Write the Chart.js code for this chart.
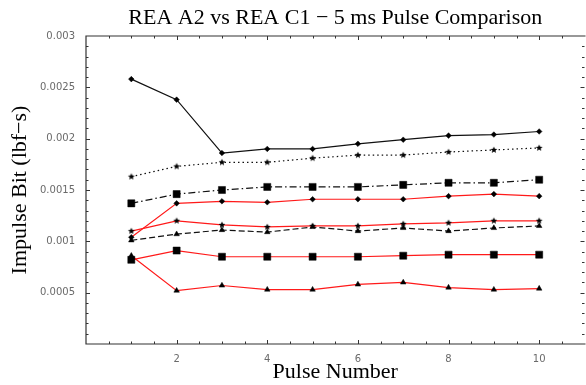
<!DOCTYPE html>
<html>
<head>
<meta charset="utf-8">
<script src="https://cdn.jsdelivr.net/npm/chart.js@4/dist/chart.umd.min.js"></script>
<style>
  html, body { margin: 0; padding: 0; background: #fff; overflow: hidden; }
  #wrap { width: 590px; height: 385px; }
</style>
</head>
<body>
<div id="wrap"><canvas id="pulseChart" width="590" height="385"></canvas></div>
<script>
// Pulse numbers along the x axis
const pulses = [1, 2, 3, 4, 5, 6, 7, 8, 9, 10];

// Impulse bit per pulse (lbf-s)
const blackDiamond  = [0.00258, 0.00238, 0.00186, 0.00190, 0.00190, 0.00195, 0.00199, 0.00203, 0.00204, 0.00207];
const blackStar     = [0.00163, 0.00173, 0.00177, 0.00177, 0.00181, 0.00184, 0.00184, 0.00187, 0.00189, 0.00191];
const blackSquare   = [0.00137, 0.00146, 0.00150, 0.00153, 0.00153, 0.00153, 0.00155, 0.00157, 0.00157, 0.00160];
const redDiamond    = [0.00104, 0.00137, 0.00139, 0.00138, 0.00141, 0.00141, 0.00141, 0.00144, 0.00146, 0.00144];
const redStar       = [0.00110, 0.00120, 0.00116, 0.00114, 0.00115, 0.00115, 0.00117, 0.00118, 0.00120, 0.00120];
const blackTriangle = [0.00101, 0.00107, 0.00111, 0.00109, 0.00114, 0.00110, 0.00113, 0.00110, 0.00113, 0.00115];
const redSquare     = [0.00082, 0.00091, 0.00085, 0.00085, 0.00085, 0.00085, 0.00086, 0.00087, 0.00087, 0.00087];
const redTriangle   = [0.00086, 0.00052, 0.00057, 0.00053, 0.00053, 0.00058, 0.00060, 0.00055, 0.00053, 0.00054];

const xTicks = [2, 4, 6, 8, 10];
const yTicks = [0.0005, 0.001, 0.0015, 0.002, 0.0025, 0.003];

const titleText = 'REA A2 vs REA C1 \u2212 5 ms Pulse Comparison';

// small filled star used as a point marker
function starImage(r) {
    const s = Math.ceil(r * 2 + 2);
    const c = document.createElement('canvas');
    c.width = s; c.height = s;
    const g = c.getContext('2d');
    g.beginPath();
    for (let i = 0; i < 10; i++) {
        const a = -Math.PI / 2 + i * Math.PI / 5;
        const rr = i % 2 ? r * 0.45 : r;
        g.lineTo(s / 2 + rr * Math.cos(a), s / 2 + rr * Math.sin(a));
    }
    g.closePath();
    g.fillStyle = '#000';
    g.fill();
    return c;
}
const star = starImage(3.6);

function toPoints(values) {
    return pulses.map((p, i) => ({ x: p, y: values[i] }));
}

function series(values, color, dash, marker, radius) {
    return {
        data: toPoints(values),
        borderColor: color,
        borderWidth: 1.2,
        borderDash: dash,
        pointStyle: marker,
        pointRadius: radius,
        pointBackgroundColor: '#000',
        pointBorderColor: '#000',
        pointBorderWidth: 0.5,
        tension: 0
    };
}

const RED = '#ff1a1a';
const BLACK = '#111';

// frame with inward ticks on all four sides, plus the title over the plot area
const framePlugin = {
    id: 'frame',
    afterDraw(chart) {
        const { ctx, chartArea: a, scales } = chart;
        const xs = scales.x, ys = scales.y;
        ctx.save();
        ctx.strokeStyle = '#333';
        ctx.lineWidth = 1.2;
        ctx.beginPath();
        ctx.moveTo(a.right + 1, a.top);
        ctx.lineTo(a.left, a.top);
        ctx.lineTo(a.left, a.bottom);
        ctx.lineTo(a.right + 1, a.bottom);
        ctx.stroke();
        ctx.lineWidth = 1;
        ctx.beginPath();
        for (let i = 1; i < 22; i++) {
            const v = i * 0.5;
            const px = Math.round(xs.getPixelForValue(v)) + 0.5;
            const len = (v % 2 === 0) ? 4 : 2.5;
            ctx.moveTo(px, a.bottom); ctx.lineTo(px, a.bottom - len);
            ctx.moveTo(px, a.top); ctx.lineTo(px, a.top + len);
        }
        for (let i = 1; i < 30; i++) {
            const v = i * 0.0001;
            const py = Math.round(ys.getPixelForValue(v)) + 0.5;
            const len = (i % 5 === 0) ? 4 : 2.5;
            ctx.moveTo(a.left, py); ctx.lineTo(a.left + len, py);
            ctx.moveTo(a.right, py); ctx.lineTo(a.right - len, py);
        }
        ctx.stroke();

        ctx.fillStyle = '#000';
        ctx.font = '22px "Liberation Serif", "Times New Roman", serif';
        ctx.textAlign = 'center';
        ctx.textBaseline = 'alphabetic';
        ctx.fillText(titleText, (a.left + a.right) / 2, 24);
        ctx.restore();
    }
};

const ctx = document.getElementById('pulseChart').getContext('2d');

const pulseChart = new Chart(ctx, {
    type: 'line',
    data: {
        datasets: [
            series(blackDiamond, BLACK, [], 'rectRot', 2.8),
            series(blackStar, BLACK, [1.5, 3], star, 3.6),
            series(blackSquare, BLACK, [7, 3, 1.5, 3], 'rect', 5),
            series(redDiamond, RED, [], 'rectRot', 2.8),
            series(redStar, RED, [], star, 3.6),
            series(blackTriangle, BLACK, [6, 3], 'triangle', 3.2),
            series(redSquare, RED, [], 'rect', 5),
            series(redTriangle, RED, [], 'triangle', 3.2)
        ]
    },
    options: {
        responsive: false,
        animation: false,
        layout: { padding: { top: 36, right: 4, left: 0, bottom: 0 } },
        plugins: {
            legend: { display: false },
            tooltip: { enabled: false },
            title: { display: false }
        },
        scales: {
            x: {
                type: 'linear',
                min: 0,
                max: 11,
                afterFit(scale) { scale.height = 41; },
                afterBuildTicks(scale) { scale.ticks = xTicks.map(v => ({ value: v })); },
                grid: { display: false, drawTicks: false },
                border: { display: false },
                ticks: {
                    padding: 9,
                    autoSkip: false,
                    maxRotation: 0,
                    color: '#6a6a6a',
                    font: { family: '"DejaVu Sans", sans-serif', size: 10 },
                    callback: v => String(v)
                },
                title: {
                    display: true,
                    text: 'Pulse Number',
                    color: '#000',
                    font: { family: '"Liberation Serif", "Times New Roman", serif', size: 22, lineHeight: 1.2 },
                    padding: { top: 0, bottom: 0 }
                }
            },
            y: {
                type: 'linear',
                min: 0,
                max: 0.003,
                afterFit(scale) { scale.width = 86; },
                afterBuildTicks(scale) { scale.ticks = yTicks.map(v => ({ value: v })); },
                grid: { display: false, drawTicks: false },
                border: { display: false },
                ticks: {
                    padding: 11,
                    autoSkip: false,
                    color: '#6a6a6a',
                    font: { family: '"DejaVu Sans", sans-serif', size: 10 },
                    callback: v => String(+v.toFixed(4))
                },
                title: {
                    display: true,
                    text: 'Impulse Bit (lbf\u2212s)',
                    color: '#000',
                    font: { family: '"Liberation Serif", "Times New Roman", serif', size: 22, lineHeight: 1.2 },
                    padding: { top: 7, bottom: 0 }
                }
            }
        }
    },
    plugins: [framePlugin]
});
</script>
</body>
</html>
